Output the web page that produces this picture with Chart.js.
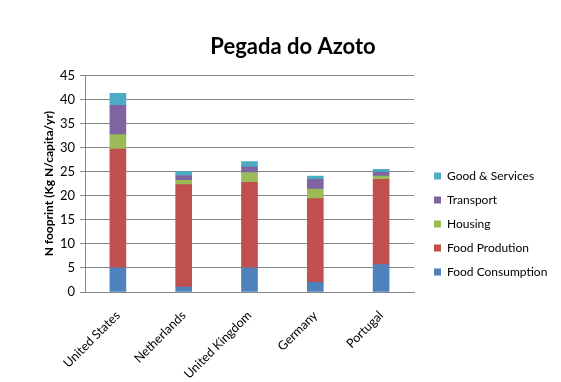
<!DOCTYPE html>
<html lang="pt">
<head>
    <meta charset="UTF-8">
    <title>Pegada do Azoto</title>
    <script src="https://cdn.jsdelivr.net/npm/chart.js"></script>
    <style>
        body {
            margin: 0;
            background: #fff;
        }
        #wrap {
            width: 561px;
            height: 382px;
        }
    </style>
</head>
<body>
    <div id="wrap">
        <canvas id="azoto" width="561" height="382"></canvas>
    </div>

    <script>
        // dados
        const countries = ['United States', 'Netherlands', 'United Kingdom', 'Germany', 'Portugal'];
        const foodConsumption = [5.0, 1.0, 5.0, 2.0, 5.7];
        const foodProdution = [24.7, 21.3, 17.8, 17.4, 17.7];
        const housing = [3.0, 0.9, 2.0, 2.0, 0.7];
        const transport = [6.1, 1.0, 1.2, 2.0, 0.8];
        const goodServices = [2.5, 0.8, 1.1, 0.7, 0.6];
        const yTicks = [0, 5, 10, 15, 20, 25, 30, 35, 40, 45];

        const font = 'Lato, "Open Sans", sans-serif';
        const gridColor = '#868686';

        // legenda com largura fixa e deslocada (como no original)
        const legendFix = {
            id: 'legendFix',
            beforeInit(chart) {
                const legend = chart.legend;
                const fit = legend.fit;
                legend.fit = function () {
                    fit.call(this);
                    this.width = 147;
                };
                const draw = legend.draw;
                legend.draw = function () {
                    const c = this.ctx;
                    c.save();
                    c.translate(8, 33);
                    draw.call(this);
                    c.restore();
                };
            }
        };

        new Chart(document.getElementById('azoto'), {
            type: 'bar',
            data: {
                labels: countries,
                datasets: [
                    { label: 'Food Consumption', data: foodConsumption, backgroundColor: '#4F81BD' },
                    { label: 'Food Prodution', data: foodProdution, backgroundColor: '#C0504D' },
                    { label: 'Housing', data: housing, backgroundColor: '#9BBB59' },
                    { label: 'Transport', data: transport, backgroundColor: '#8064A2' },
                    { label: 'Good & Services', data: goodServices, backgroundColor: '#4BACC6' },
                ],
            },
            options: {
                responsive: false,
                animation: false,
                layout: {
                    padding: { left: 25, right: 0, top: 0, bottom: 0 },
                },
                datasets: {
                    bar: { barThickness: 16 },
                },
                plugins: {
                    title: {
                        display: true,
                        text: 'Pegada do Azoto',
                        color: '#000',
                        font: { family: font, size: 22, weight: 'bold' },
                        padding: { top: 34, bottom: 15 },
                    },
                    legend: {
                        position: 'right',
                        reverse: true,
                        labels: {
                            boxWidth: 7,
                            boxHeight: 7,
                            padding: 12,
                            color: '#000',
                            font: { family: font, size: 12 },
                        },
                    },
                    tooltip: { enabled: false },
                },
                scales: {
                    x: {
                        stacked: true,
                        grid: { display: false },
                        border: { display: true, color: gridColor },
                        ticks: {
                            color: '#000',
                            padding: 8,
                            font: { family: font, size: 12.5 },
                            minRotation: 45,
                            maxRotation: 45,
                        },
                        afterFit(scale) {
                            scale.height = 90;
                        },
                    },
                    y: {
                        stacked: true,
                        min: 0,
                        max: 45,
                        afterBuildTicks(scale) {
                            scale.ticks = yTicks.map(v => ({ value: v }));
                        },
                        grid: { color: gridColor, tickLength: 5 },
                        border: { display: true, color: gridColor },
                        ticks: {
                            color: '#000',
                            padding: 5,
                            font: { family: font, size: 13 },
                        },
                        title: {
                            display: true,
                            text: 'N fooprint (Kg N/capita/yr)',
                            color: '#000',
                            font: { family: font, size: 12, weight: 'bold' },
                            padding: { top: 17, bottom: 0 },
                        },
                        afterFit(scale) {
                            scale.width = 60;
                        },
                    },
                },
            },
            plugins: [legendFix],
        });
    </script>
</body>
</html>
